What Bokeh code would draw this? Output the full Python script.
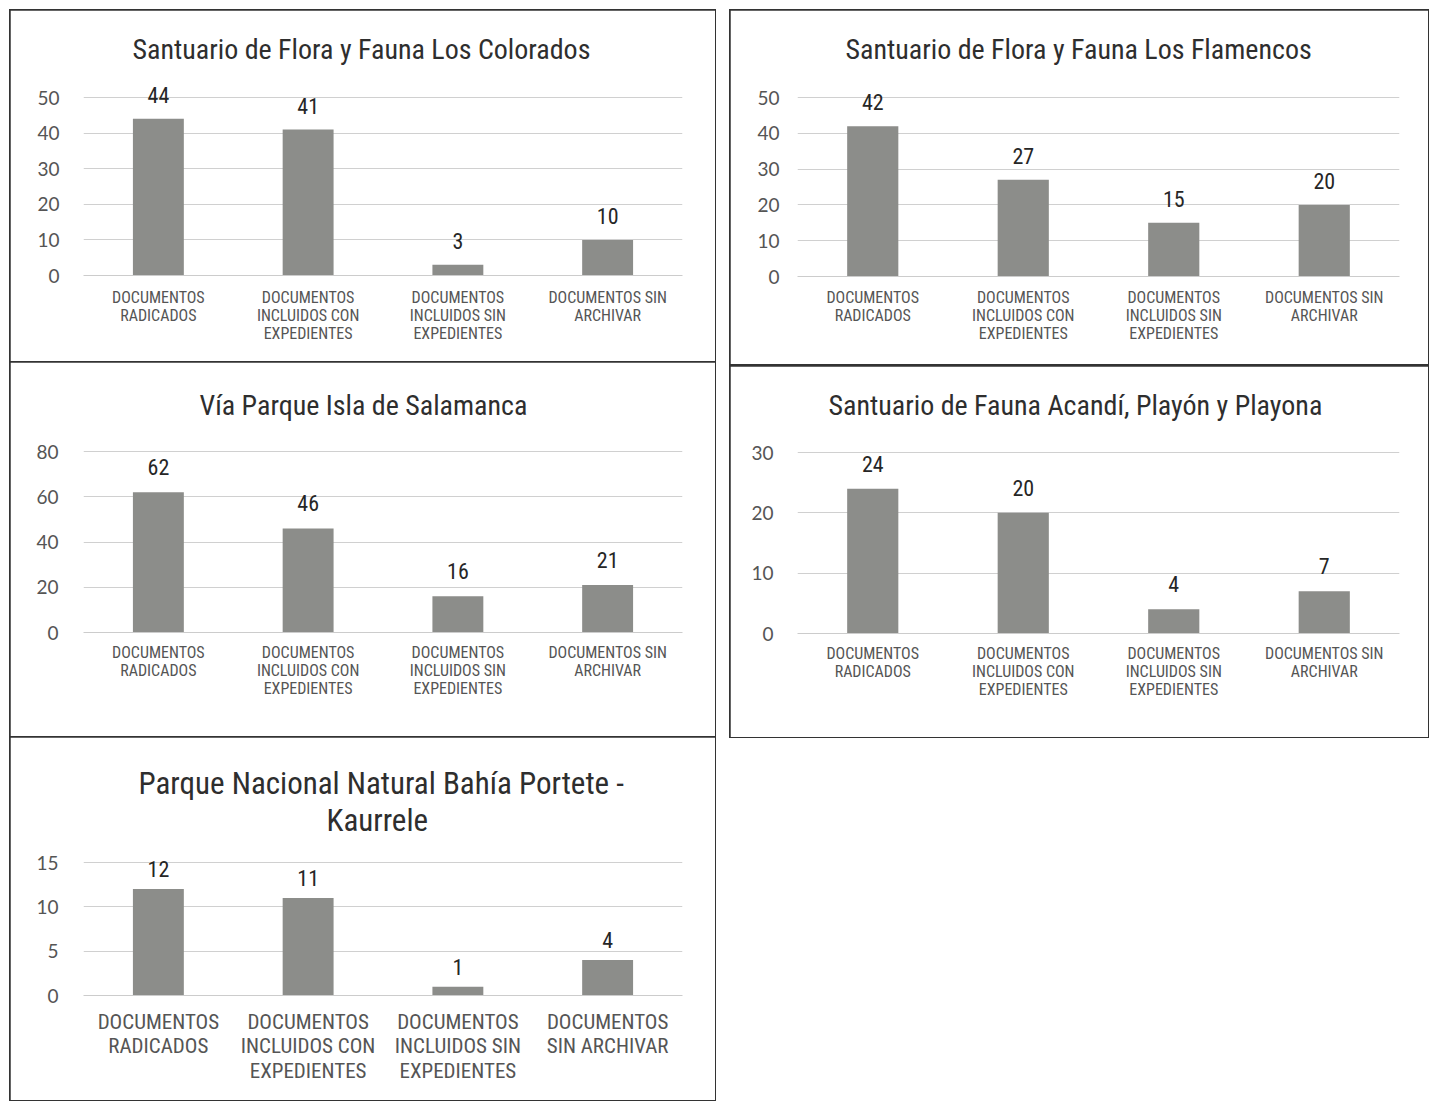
from bokeh.plotting import figure
from bokeh.layouts import row, column, Spacer
from bokeh.models import FixedTicker, Range1d, ColumnDataSource, Title
from bokeh.embed import file_html
from bokeh.resources import INLINE
from bokeh.core.properties import value

# ---------------- data ----------------
categories = ["DOCUMENTOS\nRADICADOS",
              "DOCUMENTOS\nINCLUIDOS CON\nEXPEDIENTES",
              "DOCUMENTOS\nINCLUIDOS SIN\nEXPEDIENTES",
              "DOCUMENTOS SIN\nARCHIVAR"]
categories_portete = ["DOCUMENTOS\nRADICADOS",
                      "DOCUMENTOS\nINCLUIDOS CON\nEXPEDIENTES",
                      "DOCUMENTOS\nINCLUIDOS SIN\nEXPEDIENTES",
                      "DOCUMENTOS\nSIN ARCHIVAR"]

title_colorados = ["Santuario de Flora y Fauna Los Colorados"]
title_flamencos = ["Santuario de Flora y Fauna Los Flamencos"]
title_salamanca = ["Vía Parque Isla de Salamanca"]
title_acandi = ["Santuario de Fauna Acandí, Playón y Playona"]
title_portete = ["Parque Nacional Natural Bahía Portete -", "Kaurrele"]

values_colorados = [44, 41, 3, 10]
values_flamencos = [42, 27, 15, 20]
values_salamanca = [62, 46, 16, 21]
values_acandi = [24, 20, 4, 7]
values_portete = [12, 11, 1, 4]

ticks_colorados = [0, 10, 20, 30, 40, 50]
ticks_flamencos = [0, 10, 20, 30, 40, 50]
ticks_salamanca = [0, 20, 40, 60, 80]
ticks_acandi = [0, 10, 20, 30]
ticks_portete = [0, 5, 10, 15]

FONT = "Roboto Condensed"
TICKFONT = "Lato"
BAR = "#8c8d8a"
EXTRA = 22  # px of headroom above the top gridline for value labels


def panel(title_lines, title_offsets, title_standoffs, cats, vals, ticks,
          width, height, fw, fh_axis, bl, top_line,
          y_std=24, val_off=-24, cat_size="16px", cat_lh=0.97, cat_std=12,
          title_size="28px"):
    fh = fh_axis + EXTRA
    y_end = ticks[-1] * fh / fh_axis
    bt = top_line - EXTRA
    bb = height - bt - fh
    br = width - bl - fw
    p = figure(x_range=cats, y_range=Range1d(0, y_end),
               width=width, height=height,
               min_border_left=bl, min_border_right=br,
               min_border_top=bt, min_border_bottom=bb,
               output_backend="svg", toolbar_location=None,
               background_fill_color="white", border_fill_color="white",
               outline_line_color=None)
    p.styles = {"outline": "2px solid #333333", "outline-offset": "-1px"}
    # the figure title is the outermost (top) line; extra lines are added below it
    p.title.text = title_lines[0]
    p.title.offset = title_offsets[0]
    p.title.standoff = title_standoffs[0]
    p.title.align = "left"
    p.title.text_font = FONT
    p.title.text_font_size = title_size
    p.title.text_font_style = "normal"
    p.title.text_color = "#2e2e2e"
    for line, off, st in zip(title_lines[1:], title_offsets[1:], title_standoffs[1:]):
        p.add_layout(Title(text=line, align="left", offset=off, standoff=st,
                           text_font=FONT, text_font_size=title_size,
                           text_font_style="normal", text_color="#2e2e2e"), "above")
    src = ColumnDataSource(dict(x=cats, top=vals, lab=[str(v) for v in vals]))
    p.vbar(x="x", top="top", width=0.34, source=src,
           fill_color=BAR, line_color=None)
    p.text(x="x", y="top", text="lab", source=src,
           text_font=value(FONT), text_font_size="22px",
           text_color="#262626", text_align="center",
           text_baseline="middle", y_offset=val_off)
    p.yaxis.ticker = FixedTicker(ticks=ticks)
    p.yaxis.axis_line_color = None
    p.yaxis.major_tick_line_color = None
    p.yaxis.minor_tick_line_color = None
    p.yaxis.major_tick_out = 0
    p.yaxis.major_label_standoff = y_std
    p.yaxis.major_label_text_font = TICKFONT
    p.yaxis.major_label_text_font_size = "19px"
    p.yaxis.major_label_text_color = "#555555"
    p.xaxis.axis_line_color = "#cccccc"
    p.xaxis.major_tick_line_color = None
    p.xaxis.minor_tick_line_color = None
    p.xaxis.major_tick_out = 0
    p.xaxis.major_label_standoff = cat_std
    p.xaxis.major_label_text_font = FONT
    p.xaxis.major_label_text_font_size = cat_size
    p.xaxis.major_label_text_line_height = cat_lh
    p.xaxis.major_label_text_color = "#555555"
    p.xgrid.grid_line_color = None
    p.ygrid.grid_line_color = "#d0d0d0"
    p.ygrid.ticker = FixedTicker(ticks=ticks)
    return p


p1 = panel(title_colorados, [49], [20], categories, values_colorados, ticks_colorados,
           705, 352, 600, 178, 72, 87, y_std=24, cat_std=12)
p3 = panel(title_salamanca, [116], [16], categories, values_salamanca, ticks_salamanca,
           705, 375, 600, 181, 72, 89, y_std=25, val_off=-25, cat_std=10)
p5 = panel(title_portete, [55, 243], [-7, 3], categories_portete, values_portete,
           ticks_portete, 705, 363, 600, 133, 73, 125, y_std=25, val_off=-20,
           cat_size="21px", cat_lh=1.03, cat_std=14, title_size="31px")
p2 = panel(title_flamencos, [48], [20], categories, values_flamencos, ticks_flamencos,
           698, 354, 604, 179, 65, 87, y_std=18, cat_std=11)
p4 = panel(title_acandi, [31], [18], categories, values_acandi, ticks_acandi,
           698, 371, 604, 181, 67, 86, y_std=24, val_off=-25, cat_std=10)

left = column(p1, p3, p5, spacing=0)
right = column(p2, Spacer(height=2), p4, spacing=0)
body = row(Spacer(width=10), left, Spacer(width=15), right, spacing=0)
layout = column(Spacer(height=10), body, spacing=0)

open("out.html", "w").write(file_html(layout, INLINE))
